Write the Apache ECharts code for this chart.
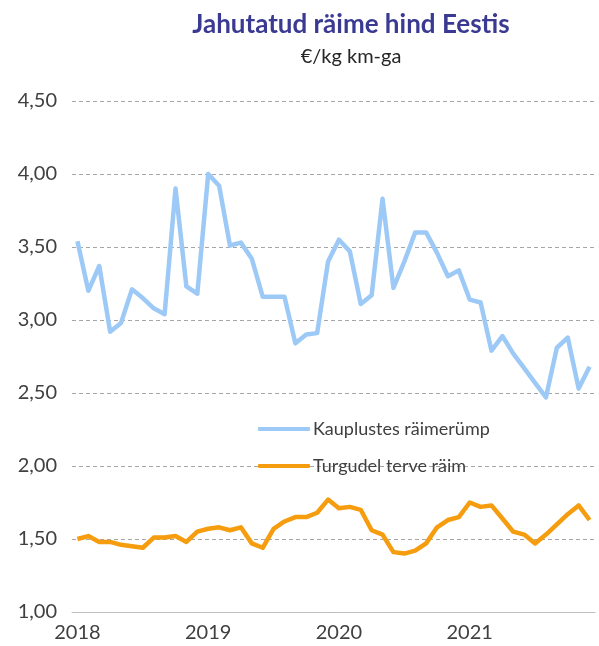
<!DOCTYPE html>
<html><head><meta charset="utf-8">
<script src="https://cdn.jsdelivr.net/npm/echarts@6/dist/echarts.min.js"></script>
<style>html,body{margin:0;padding:0;background:#fff}#c{width:599px;height:646px}</style>
</head><body><div id="c"></div>
<script>
const years = [2018, 2019, 2020, 2021];
const months = [];
years.forEach(y => { for (let m = 1; m <= 12; m++) months.push(y + '-' + (m < 10 ? '0' + m : m)); });
const seriesNames = ['Kauplustes räimerümp', 'Turgudel terve räim'];
const storeFillet = [3.54,3.20,3.37,2.92,2.98,3.21,3.15,3.08,3.04,3.90,3.23,3.18,
  4.00,3.92,3.51,3.53,3.42,3.16,3.16,3.16,2.84,2.90,2.91,3.40,
  3.55,3.47,3.11,3.17,3.83,3.22,3.40,3.60,3.60,3.46,3.30,3.34,
  3.14,3.12,2.79,2.89,2.77,2.67,2.57,2.47,2.81,2.88,2.53,2.68];
const marketWhole = [1.50,1.52,1.48,1.48,1.46,1.45,1.44,1.51,1.51,1.52,1.48,1.55,
  1.57,1.58,1.56,1.58,1.47,1.44,1.57,1.62,1.65,1.65,1.68,1.77,
  1.71,1.72,1.70,1.56,1.53,1.41,1.40,1.42,1.47,1.58,1.63,1.65,
  1.75,1.72,1.73,1.64,1.55,1.53,1.47,1.53,1.60,1.67,1.73,1.63];
const yTicks = [1.0,1.5,2.0,2.5,3.0,3.5,4.0,4.5];

const chart = echarts.init(document.getElementById('c'));
const font = 'Lato, "Open Sans", sans-serif';
chart.setOption({
  animation: false,
  title: {
    text: 'Jahutatud räime hind Eestis',
    subtext: '€/kg km-ga',
    left: 346, textAlign: 'center', top: 6, itemGap: 7,
    textStyle: { fontFamily: font, fontWeight: 'bold', fontSize: 26, lineHeight: 28, color: '#3b3a92' },
    subtextStyle: { fontFamily: font, fontSize: 20, lineHeight: 22, color: '#262626' }
  },
  legend: {
    orient: 'vertical', left: 253, top: 413, itemGap: 15,
    itemWidth: 52, itemHeight: 4, icon: 'roundRect',
    textStyle: { fontFamily: font, fontSize: 18, lineHeight: 22, color: '#404040', padding: [0, 0, 0, -2] },
    data: seriesNames
  },
  grid: { left: 72, right: 4, top: 101, bottom: 34, containLabel: false },
  xAxis: {
    type: 'category', data: months, boundaryGap: true,
    axisLine: { lineStyle: { color: '#bfbfbf', width: 1 } },
    axisTick: { interval: 2, length: 5, lineStyle: { color: '#bfbfbf' } },
    axisLabel: { interval: 11, formatter: v => v.slice(0, 4), fontFamily: font, fontSize: 20, color: '#404040', margin: 11 },
    splitLine: { show: false }
  },
  yAxis: {
    type: 'value', min: yTicks[0], max: yTicks[yTicks.length - 1], interval: 0.5,
    axisLine: { show: false }, axisTick: { show: false },
    axisLabel: { formatter: v => v.toFixed(2).replace('.', ','), fontFamily: font, fontSize: 20, color: '#404040', margin: 15 },
    splitLine: { lineStyle: { color: '#a6a6a6', type: [4, 3], width: 1 } }
  },
  series: [
    { name: seriesNames[0], type: 'line', data: storeFillet, symbol: 'none',
      lineStyle: { color: '#9dc9f7', width: 4.5, join: 'round' }, itemStyle: { color: '#9dc9f7' } },
    { name: seriesNames[1], type: 'line', data: marketWhole, symbol: 'none',
      lineStyle: { color: '#f59d0e', width: 4.5, join: 'round' }, itemStyle: { color: '#f59d0e' } }
  ]
});
</script></body></html>
